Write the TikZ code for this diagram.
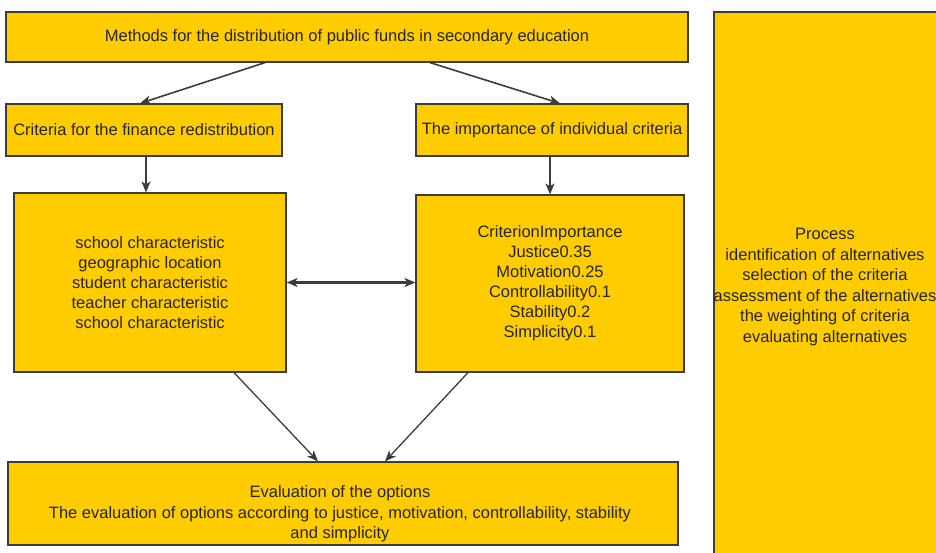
\documentclass[tikz,border=0pt]{standalone}
\usepackage{fontspec}
\setmainfont{Liberation Sans}
\usetikzlibrary{arrows.meta}
\definecolor{boxyellow}{HTML}{FFCC00}
\definecolor{boxline}{HTML}{3C3C3C}

\begin{document}
\begin{tikzpicture}[x=1pt,y=-1pt]
        \useasboundingbox (0,0) rectangle (936,552);
        \clip (0,0) rectangle (936,552);
        \fill[white] (0,0) rectangle (936,552);
        \begin{scope}[>={Stealth[length=11pt,width=9pt,inset=3pt]},line width=1.6pt,draw=boxline,
          box node/.style={rectangle,fill=boxyellow,draw=boxline,line width=1.2pt,align=center,
            inner sep=0pt,text=black!85,font=\fontsize{16.5}{20}\selectfont},
          text node/.style={align=center,text=black!85,font=\fontsize{16.5}{20.5}\selectfont}]
        \node[box node,minimum width=682pt,minimum height=50pt] (1) at (347,37) {Methods for the distribution of public funds in secondary education};
        \node[box node,minimum width=276pt,minimum height=52pt] (2) at (144,130) {Criteria for the finance redistribution};
        \node[box node,minimum width=272pt,minimum height=52pt] (3) at (552,130) {The importance of individual criteria};
        \node[box node,minimum width=272pt,minimum height=179pt] (4) at (150,282.5) {school characteristic\\geographic location\\student characteristic\\teacher characteristic\\school characteristic};
        \node[box node,minimum width=268pt,minimum height=177pt] (5) at (550,283.5) {CriterionImportance\\Justice0.35\\Motivation0.25\\Controllability0.1\\Stability0.2\\Simplicity0.1};
        \node[box node,minimum width=670pt,minimum height=83pt] (6) at (343,503.5) {};
        \node[text node] (6t) at (340,514) {Evaluation of the options\\The evaluation of options according to justice, motivation, controllability, stability\\and simplicity};
        \node[box node,minimum width=240pt,minimum height=560pt] (7) at (834,292) {};
        \node[text node] (7t) at (825,287) {Process\\identification of alternatives\\selection of the criteria\\assessment of the alternatives\\the weighting of criteria\\evaluating alternatives};
        \path[->]
        ([xshift=-82pt]1.south) edge ([xshift=-4pt]2.north)
        ([xshift=83pt]1.south) edge ([xshift=8pt]3.north);
        \path[->,line width=1.3pt]
        ([xshift=2pt]2.south) edge ([xshift=2pt]2.south |- 4.north)
        ([xshift=-2pt]3.south) edge ([xshift=-2pt]3.south |- 5.north)
        ([xshift=84pt]4.south) edge ([xshift=-25pt]6.north)
        ([xshift=-82pt]5.south) edge ([xshift=42pt]6.north);
        \path[<->,line width=2.2pt]
        (4.east) edge (4.east -| 5.west);
        \end{scope}
    \end{tikzpicture}
\end{document}
